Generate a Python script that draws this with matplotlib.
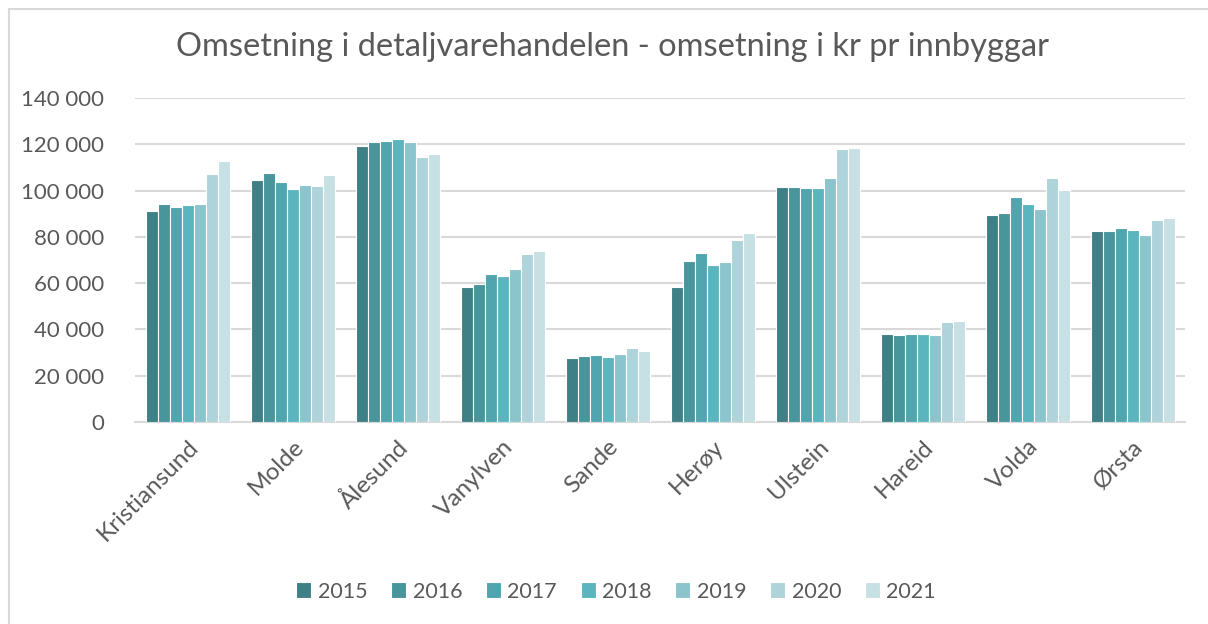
import matplotlib
matplotlib.use("Agg")
import matplotlib.pyplot as plt
import numpy as np
from matplotlib.patches import Rectangle

# data
kommunar = ["Kristiansund", "Molde", "Ålesund", "Vanylven", "Sande",
            "Herøy", "Ulstein", "Hareid", "Volda", "Ørsta"]
years = ["2015", "2016", "2017", "2018", "2019", "2020", "2021"]

v2015 = [91100, 104500, 119200, 58500, 27500, 58500, 101400, 37900, 89300, 82500]
v2016 = [94000, 107400, 121000, 59500, 28600, 69500, 101600, 37600, 90300, 82600]
v2017 = [92900, 103700, 121400, 63900, 28800, 73000, 101100, 38100, 97200, 83800]
v2018 = [93700, 100600, 122100, 63200, 28200, 67700, 101200, 38000, 94000, 83100]
v2019 = [94200, 102200, 121000, 66000, 29400, 69000, 105400, 37700, 91900, 80600]
v2020 = [107000, 101900, 114600, 72400, 31800, 78600, 118100, 43000, 105400, 87100]
v2021 = [112900, 106800, 115800, 73700, 30500, 81600, 118400, 43600, 100400, 88000]
series = [v2015, v2016, v2017, v2018, v2019, v2020, v2021]

colors = ['#3e8086', '#48959b', '#50a5af', '#5bb5bf', '#8bc4cc', '#aed3da', '#c7e0e4']
text_color = '#595959'
grid_color = '#d9d9d9'

plt.rcParams['font.family'] = ['Lato', 'DejaVu Sans']

fig = plt.figure(figsize=(12.08, 6.24), dpi=100)
ax = fig.add_axes([0.1118, 0.3237, 0.8692, 0.5193])

# chart border (only top and left visible in the crop)
fig.patches.append(Rectangle((9 / 1208, -0.1), 1.2, (624 - 9) / 624 + 0.1,
                             transform=fig.transFigure, fill=False,
                             edgecolor=grid_color, linewidth=1.5))

x = np.arange(len(kommunar))
n = len(series)
group_w = 0.8
bar_w = group_w / n
for i, vals in enumerate(series):
    pos = x - group_w / 2 + bar_w * (i + 0.5)
    ax.bar(pos, vals, width=bar_w, color=colors[i], edgecolor='white',
           linewidth=0.8, label=years[i], zorder=3)

ax.set_xlim(-0.5, len(kommunar) - 0.5)
ax.set_ylim(0, 140000)
yt = np.arange(0, 140001, 20000)
ax.set_yticks(yt)
ax.set_yticklabels(["0" if t == 0 else "{:,}".format(t).replace(",", " ") for t in yt])
ax.set_xticks(x)
ax.set_xticklabels(kommunar, rotation=45, ha='right', rotation_mode='anchor')

ax.grid(axis='y', color=grid_color, linewidth=1.5, zorder=0)
ax.set_axisbelow(True)
for s in ['top', 'right', 'left']:
    ax.spines[s].set_visible(False)
ax.spines['bottom'].set_color(grid_color)
ax.spines['bottom'].set_linewidth(1.5)
ax.tick_params(axis='both', length=0, colors=text_color)
ax.tick_params(axis='y', pad=22, labelsize=16)
ax.tick_params(axis='x', pad=10, labelsize=17.5)

fig.text(0.507, 0.925, "Omsetning i detaljvarehandelen - omsetning i kr pr innbyggar",
         ha='center', va='center', fontsize=23.5, color=text_color)

leg = fig.legend(loc='center', bbox_to_anchor=(0.51, 0.052), ncol=7, frameon=False,
                 fontsize=15.5, handlelength=0.7, handleheight=0.7, handletextpad=0.3,
                 columnspacing=1.1)
for t in leg.get_texts():
    t.set_color(text_color)

fig.savefig("out.png", dpi=100)
